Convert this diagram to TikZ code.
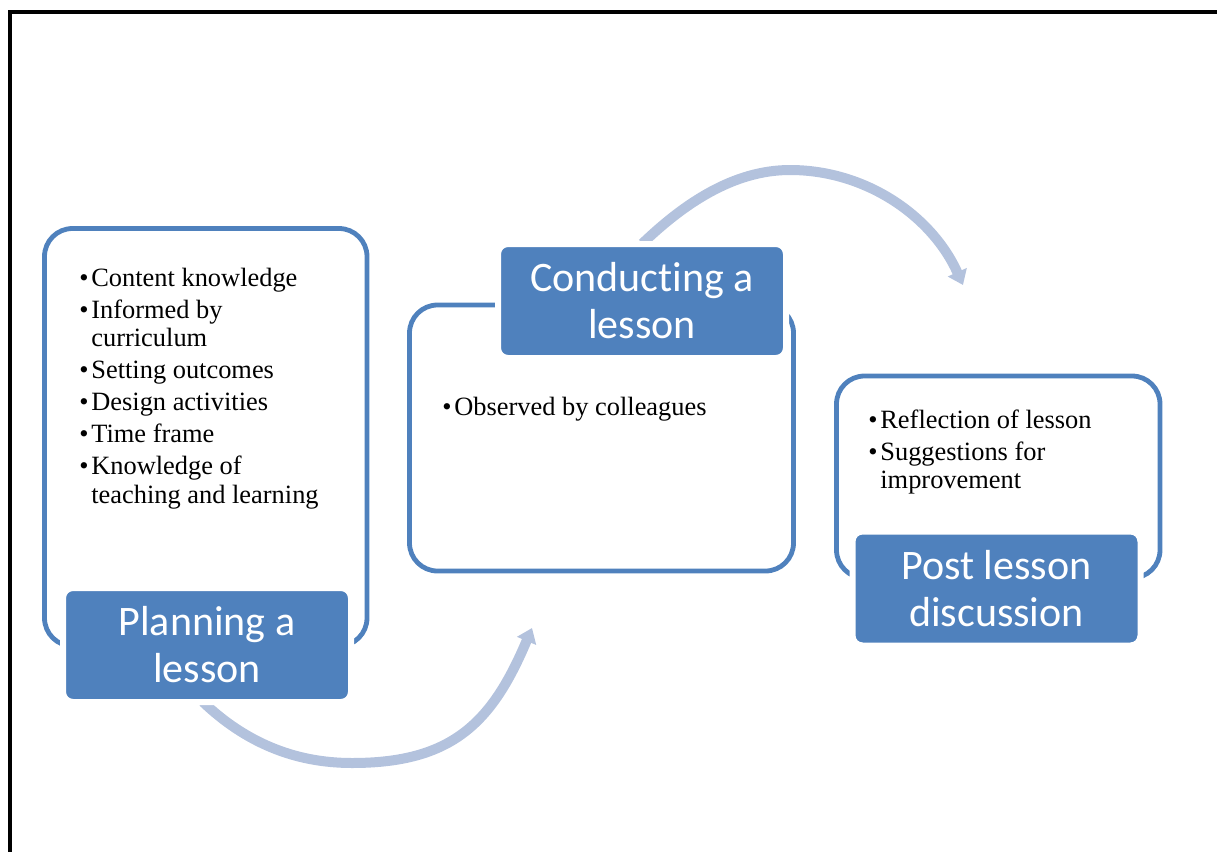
\documentclass[tikz,border=0pt]{standalone}
\usepackage{fontspec}
\setmainfont{Liberation Serif}
\newfontfamily\carlito[Ligatures={NoCommon,NoContextual},RawFeature={-liga;-clig}]{Carlito}
\usetikzlibrary{arrows.meta}
\definecolor{boxblue}{HTML}{4F81BD}
\definecolor{arrowblue}{HTML}{B3C2DD}
\newcommand{\bul}{\makebox[6pt][l]{\rule{0pt}{10pt}\textbullet}}
\newcommand{\ind}{\hspace*{6pt}}

\begin{document}
\begin{tikzpicture}[x=0.5pt,y=-0.5pt,
    stage/.style={draw=boxblue,line width=2.4pt,fill=white,rounded corners=14pt,inner sep=0pt},
    stagelabel/.style={draw=white,line width=3pt,fill=boxblue,rounded corners=5pt,inner sep=0pt,
      minimum width=144pt,minimum height=57pt,text=white,align=center,
      font=\carlito\fontsize{21}{23.5}\selectfont},
    itemlist/.style={anchor=north west,inner sep=0pt,align=left,font=\fontsize{13.2}{14.25}\selectfont},
    cyclearrow/.style={color=arrowblue,line width=5pt,-{Triangle[length=7pt,width=10pt]}}]
  \useasboundingbox (0,0) rectangle (1217,852);
  \draw[line width=2pt] (10,852) -- (10,12) -- (1217,12);

  \node[stage,minimum width=161.25pt,minimum height=208.75pt] (plan) at (205.75,437.25) {};
  \node[stage,minimum width=192pt,minimum height=133pt] (conduct) at (601.5,438) {};
  \node[stage,minimum width=161.75pt,minimum height=101pt] (post) at (998.25,477) {};

  \coordinate (planout) at (203,702);
  \coordinate (planlow) at (352,763);
  \coordinate (conductin) at (532,628);
  \coordinate (conductout) at (642.4,243.5);
  \coordinate (conducttop) at (790,170);
  \coordinate (postin) at (963,285);
  \draw[cyclearrow] (planout) .. controls +(42,40) and +(-58,0) .. (planlow)
    .. controls +(100,0) and +(-40,95) .. (conductin);
  \draw[cyclearrow] (conductout) .. controls +(41,-39.3) and +(-57,0) .. (conducttop)
    .. controls +(76,0) and +(-31,-69) .. (postin);

  \node[stagelabel] (plantitle) at (207,645) {Planning a\\lesson};
  \node[stagelabel] (conducttitle) at (642,301) {Conducting a\\lesson};
  \node[stagelabel] (posttitle) at (996.5,588.5) {Post lesson\\discussion};

  \node[itemlist] (planitems) at (79,266) {\bul Content knowledge\\[1.75pt]
    \bul Informed by\\ \ind curriculum\\[1.75pt]
    \bul Setting outcomes\\[1.75pt]
    \bul Design activities\\[1.75pt]
    \bul Time frame\\[1.75pt]
    \bul Knowledge of\\ \ind teaching and learning};
  \node[itemlist] (conductitems) at (442,395) {\bul Observed by colleagues};
  \node[itemlist] (postitems) at (868,408) {\bul Reflection of lesson\\[1.75pt]
    \bul Suggestions for\\ \ind improvement};
\end{tikzpicture}
\end{document}
